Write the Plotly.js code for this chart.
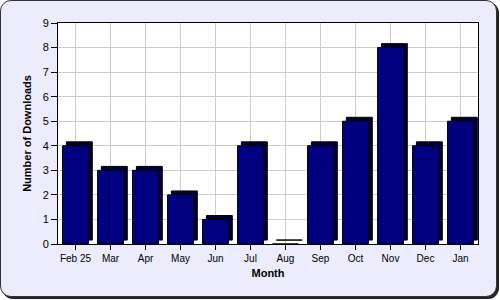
<!DOCTYPE html>
<html>
<head>
<meta charset="utf-8">
<script src="https://cdn.plot.ly/plotly-3.0.1.min.js"></script>
<style>
html,body{margin:0;padding:0;background:#ffffff;}
#wrap{position:relative;width:500px;height:300px;}
#frame{position:absolute;left:0;top:0;width:495px;height:295px;border:1px solid #333;border-radius:11px;box-shadow:2px 2px 0 #222;background:#ececfc;}
#chart{position:absolute;left:0;top:0;width:500px;height:300px;}
</style>
</head>
<body>
<div id="wrap"><div id="frame"></div><div id="chart"></div></div>
<script>
const months = ["Feb 25","Mar","Apr","May","Jun","Jul","Aug","Sep","Oct","Nov","Dec","Jan"];
const downloads = [4,3,3,2,1,4,0,4,5,8,4,5];
const yTicks = [0,1,2,3,4,5,6,7,8,9];

const depthX = 0.11, depthY = 0.16, barW = 0.74;

const sideTrace = {
  type: "bar", x: months, y: downloads,
  base: downloads.map(() => depthY),
  width: barW, offset: -barW/2 + depthX,
  marker: {color: "#000033", line: {color: "#000000", width: 1}},
  hoverinfo: "skip", showlegend: false
};
const frontTrace = {
  type: "bar", x: months, y: downloads,
  width: barW, offset: -barW/2,
  marker: {color: "#000080", line: {color: "#000000", width: 1}},
  showlegend: false
};

const layout = {
  width: 500, height: 300,
  margin: {l: 58, r: 22, t: 23, b: 56},
  paper_bgcolor: "rgba(0,0,0,0)",
  plot_bgcolor: "#ffffff",
  barmode: "overlay",
  font: {family: "Liberation Sans, Arial, sans-serif", size: 10, color: "#000"},
  xaxis: {
    type: "category",
    showgrid: true, gridcolor: "#cccccc", gridwidth: 1,
    showline: true, linecolor: "#000", linewidth: 1, mirror: true,
    ticks: "outside", ticklen: 5, tickcolor: "#000",
    tickfont: {size: 10},
    title: {text: "Month", font: {size: 11, weight: "bold"}, standoff: 6}
  },
  yaxis: {
    range: [0, 9], tickvals: yTicks, ticktext: yTicks.map(String),
    showgrid: true, gridcolor: "#cccccc", gridwidth: 1,
    zeroline: false,
    showline: true, linecolor: "#000", linewidth: 1, mirror: true,
    ticks: "outside", ticklen: 6, tickcolor: "#000",
    tickfont: {size: 11},
    title: {text: "Number of Downloads", font: {size: 11, weight: "bold"}, standoff: 8}
  }
};

Plotly.newPlot("chart", [sideTrace, frontTrace], layout, {displayModeBar: false, staticPlot: true});
</script>
</body>
</html>
